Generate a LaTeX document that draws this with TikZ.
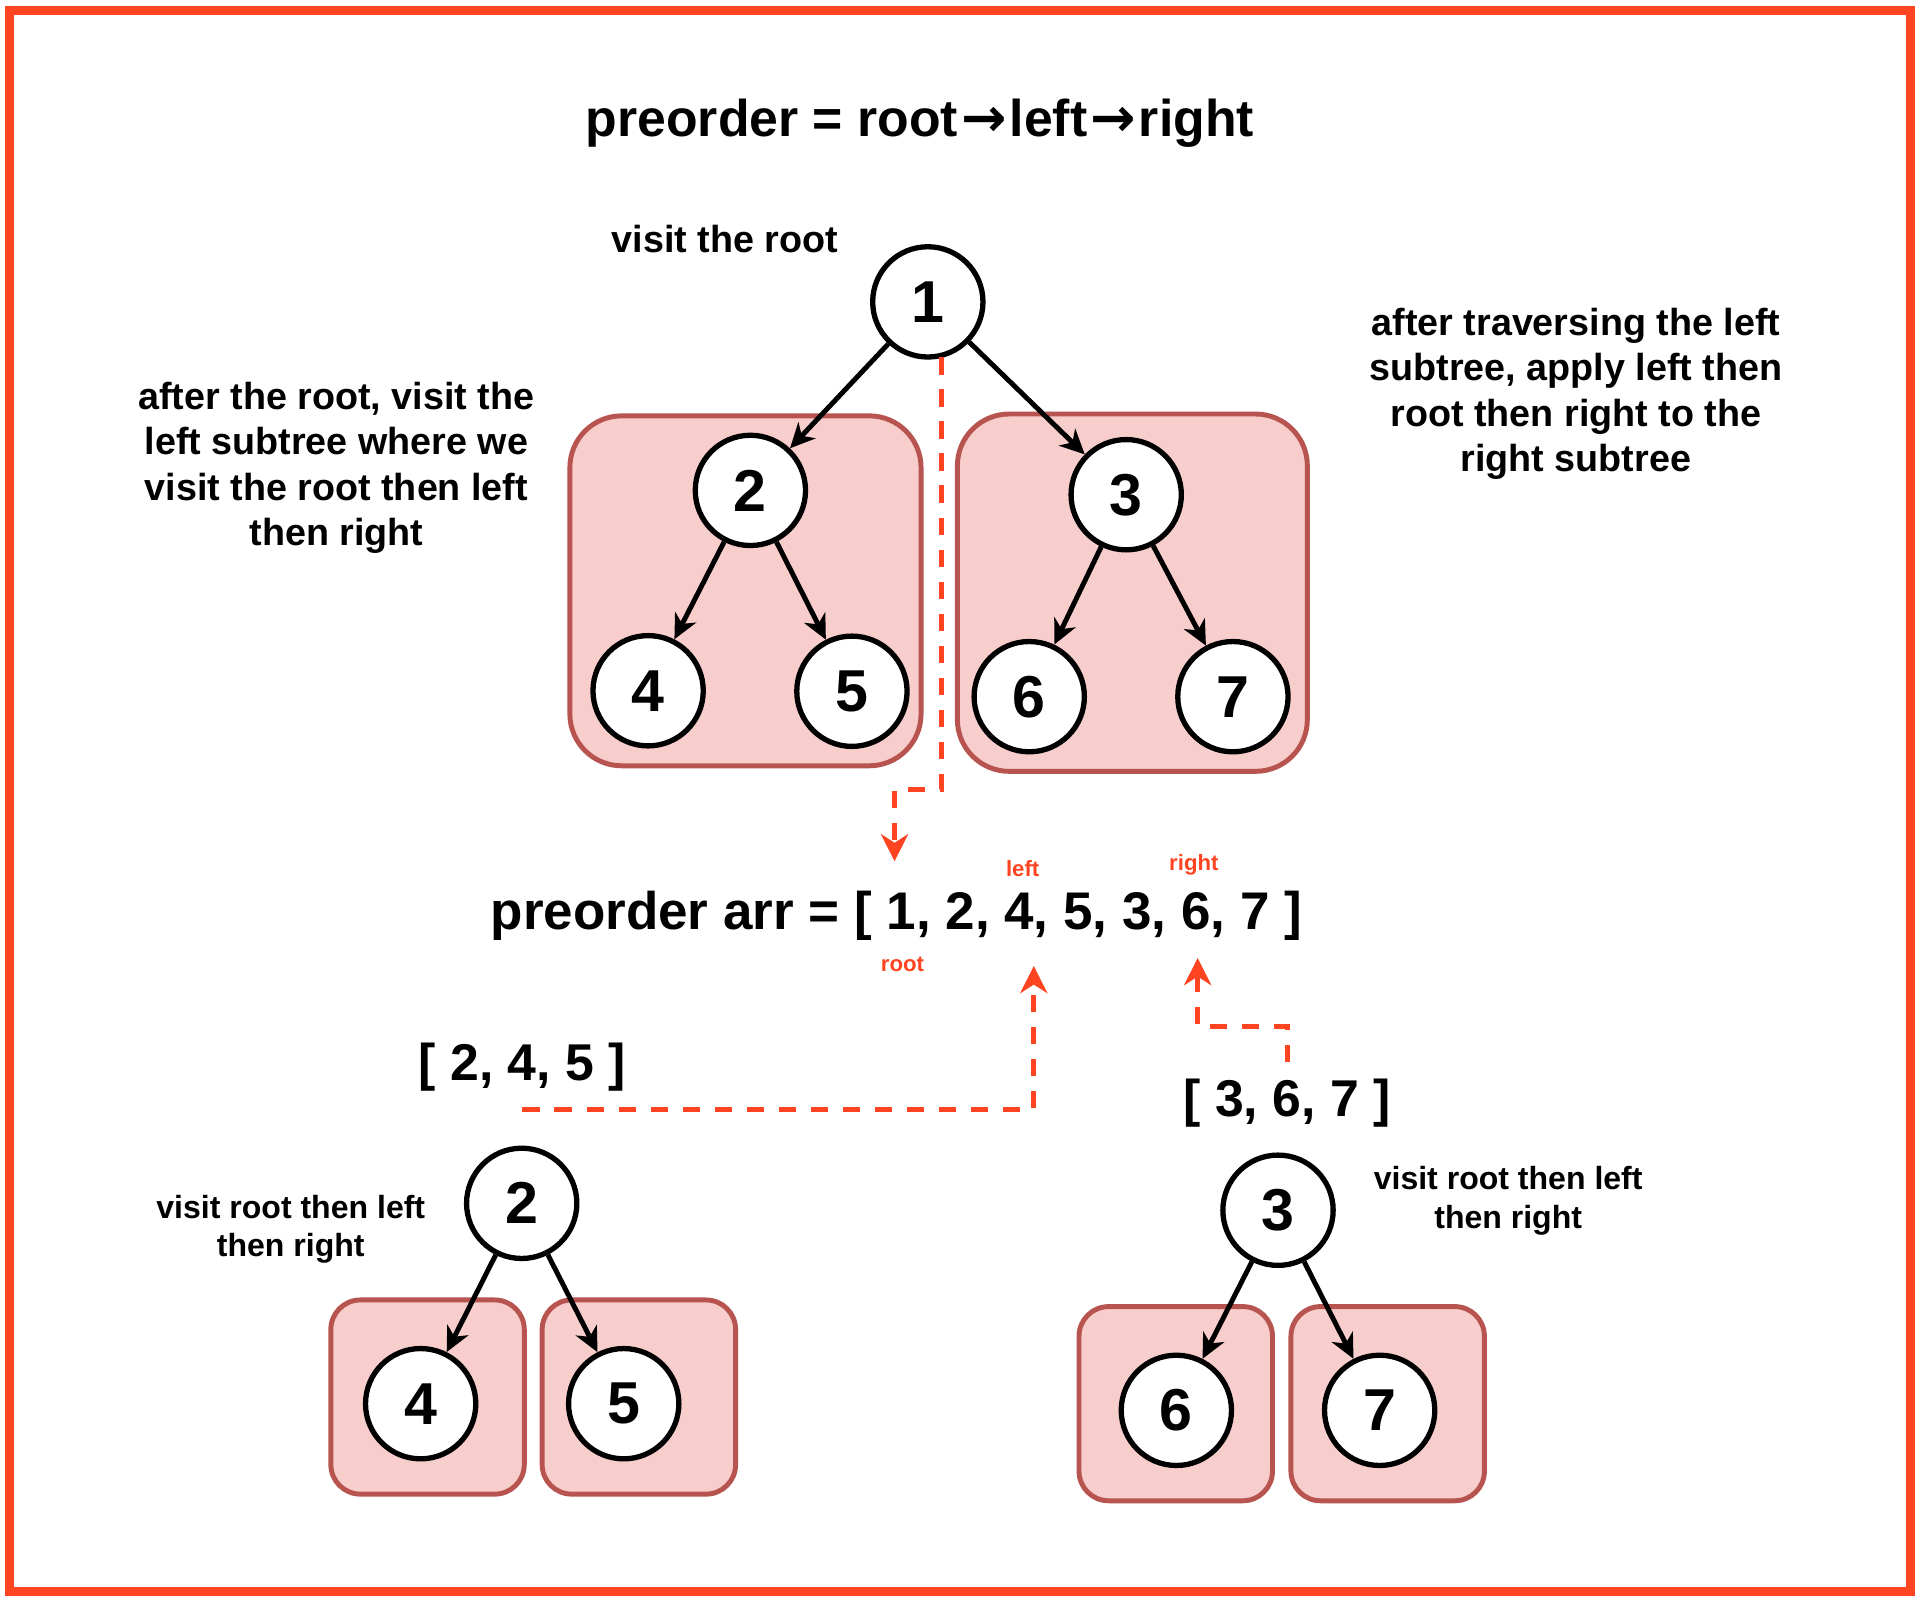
\documentclass[tikz,border=0pt]{standalone}
\usepackage{fontspec}
\setmainfont{Liberation Sans}
\newfontfamily\arrowfont{DejaVu Sans}
\usetikzlibrary{arrows.meta}
\definecolor{accent}{HTML}{FF4422}
\definecolor{boxfill}{HTML}{F8CECC}
\definecolor{boxline}{HTML}{B85450}
\newcommand{\titlearrow}{\kern2.5pt{\arrowfont\bfseries\fontsize{44}{46}\selectfont →}\kern2.5pt}
\begin{document}
\begin{tikzpicture}[x=1pt,y=-1pt,
  treenode/.style={circle,draw=black,fill=white,line width=4.3pt,minimum size=89.5pt,inner sep=0pt,font=\fontsize{48}{52}\selectfont\bfseries},
  bigbox/.style={draw=boxline,fill=boxfill,line width=4pt,rounded corners=42pt,inner sep=0pt},
  smallbox/.style={draw=boxline,fill=boxfill,line width=4pt,rounded corners=24pt,inner sep=0pt,minimum width=157pt,minimum height=157.6pt},
  treeedge/.style={line width=4pt,-{Stealth[length=20pt,width=19pt,inset=6pt]}},
  trail/.style={draw=accent,line width=3.8pt,dash pattern=on 14pt off 12pt,-{Stealth[length=22pt,width=22pt,inset=7pt]}},
  redtag/.style={text=accent,font=\fontsize{18}{20}\selectfont\bfseries,inner sep=0pt,anchor=base},
  note/.style={align=center,inner sep=0pt,font=\fontsize{30.6}{37}\selectfont\bfseries},
  smallnote/.style={align=center,inner sep=0pt,font=\fontsize{26}{31}\selectfont\bfseries},
  bigtext/.style={inner sep=0pt,anchor=base,font=\fontsize{42}{48}\selectfont\bfseries}
]
\useasboundingbox (0,0) rectangle (1563.1,1305);
\fill[white] (0,0) rectangle (1563.1,1305);
\draw[accent,line width=7.3pt] (7.7,8.4) rectangle (1550.4,1291.8);

% boxes
\node[bigbox,minimum width=285pt,minimum height=284pt] (boxL) at (605,479.5) {};
\node[bigbox,minimum width=284pt,minimum height=290pt] (boxR) at (919,481) {};
\node[smallbox] (box4) at (347,1133.8) {};
\node[smallbox] (box5) at (518.5,1133.8) {};
\node[smallbox] (box6) at (954.2,1139.2) {};
\node[smallbox] (box7) at (1126.2,1139.2) {};

% texts
\node[bigtext] (title) at (746.5,110.5) {preorder = root\titlearrow left\titlearrow right};
\node[note,anchor=base] (visitroot) at (588.4,204.8) {visit the root};
\node[note] (leftnote) at (273,379.7) {after the root, visit the\\left subtree where we\\visit the root then left\\then right};
\node[note] (rightnote) at (1279,319.7) {after traversing the left\\subtree, apply left then\\root then right to the\\right subtree};
\node[bigtext,font=\fontsize{43}{48}\selectfont\bfseries] (arr) at (727.5,754) {preorder arr = [ 1, 2, 4, 5, 3, 6, 7 ]};
\node[redtag] (tagleft) at (830,711) {left};
\node[redtag] (tagright) at (968.9,706.6) {right};
\node[redtag] (tagroot) at (732.4,788.6) {root};
\node[bigtext] (sub1) at (423.9,876.5) {[ 2, 4, 5 ]};
\node[bigtext] (sub2) at (1044.5,906.5) {[ 3, 6, 7 ]};
\node[smallnote] (lownoteL) at (236,997.5) {visit root then left\\then right};
\node[smallnote] (lownoteR) at (1224,974.6) {visit root then left\\then right};

% tree nodes
\node[treenode] (n1) at (753,245) {1};
\node[treenode] (n2) at (609,398) {2};
\node[treenode] (n3) at (914,401.5) {3};
\node[treenode] (n4) at (526,560.6) {4};
\node[treenode] (n5) at (691.4,561) {5};
\node[treenode] (n6) at (835.3,565.4) {6};
\node[treenode] (n7) at (1000.6,565.4) {7};
\node[treenode] (m2) at (423.4,976.6) {2};
\node[treenode] (m4) at (341.4,1139.2) {4};
\node[treenode] (m5) at (506.2,1139.2) {5};
\node[treenode] (m3) at (1037.2,982.2) {3};
\node[treenode] (m6) at (954.7,1144.6) {6};
\node[treenode] (m7) at (1119.7,1144.6) {7};

% tree edges
\draw[treeedge] (n1) -- (n2);
\draw[treeedge] (n1) -- (n3);
\draw[treeedge] (n2) -- (n4);
\draw[treeedge] (n2) -- (n5);
\draw[treeedge] (n3) -- (n6);
\draw[treeedge] (n3) -- (n7);
\draw[treeedge] (m2) -- (m4);
\draw[treeedge] (m2) -- (m5);
\draw[treeedge] (m3) -- (m6);
\draw[treeedge] (m3) -- (m7);

% red dashed connectors
\coordinate (r1s) at (764,290);
\coordinate (r1e) at (726,699);
\coordinate (r2s) at (424,900.3);
\coordinate (r2e) at (839,784);
\coordinate (r3s) at (1045,862);
\coordinate (r3e) at (972,777.5);
\draw[trail] (r1s) -- (764,641) -| (r1e);
\draw[trail] (r2s) -| (r2e);
\draw[trail] (r3s) -- (1045,833) -| (r3e);
\end{tikzpicture}
\end{document}
